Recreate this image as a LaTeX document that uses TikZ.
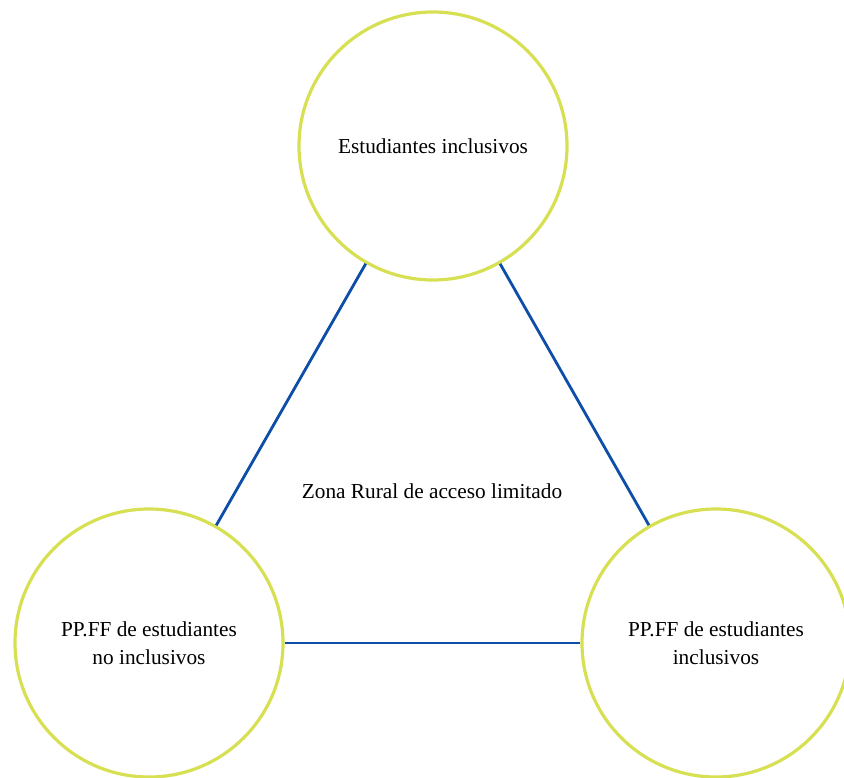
\documentclass[tikz,border=0pt]{standalone}
\usepackage{fontspec}
\setmainfont{Liberation Serif}
\definecolor{ringcol}{HTML}{D6E052}
\definecolor{linkcol}{HTML}{0D4FA8}
\begin{document}
\begin{tikzpicture}[x=1pt,y=-1pt,
  ring/.style={circle, draw=ringcol, line width=3.2pt, minimum size=268pt, inner sep=0pt,
    align=center, font=\fontsize{21.3}{28.5}\selectfont},
  link/.style={draw=linkcol, line width=2.8pt},
  caption/.style={font=\fontsize{21.3}{28.5}\selectfont}]
  \useasboundingbox (0,0) rectangle (844,778);
  \node[ring] (top) at (433,146) {Estudiantes inclusivos};
  \node[ring] (left) at (149,643) {PP.FF de estudiantes\\no inclusivos};
  \node[ring] (right) at (716,643) {PP.FF de estudiantes\\inclusivos};
  \node[caption] (zone) at (432,491) {Zona Rural de acceso limitado};
  \draw[link] (top) -- (left);
  \draw[link] (top) -- (right);
  \draw[link] (left) -- (right);
\end{tikzpicture}
\end{document}
